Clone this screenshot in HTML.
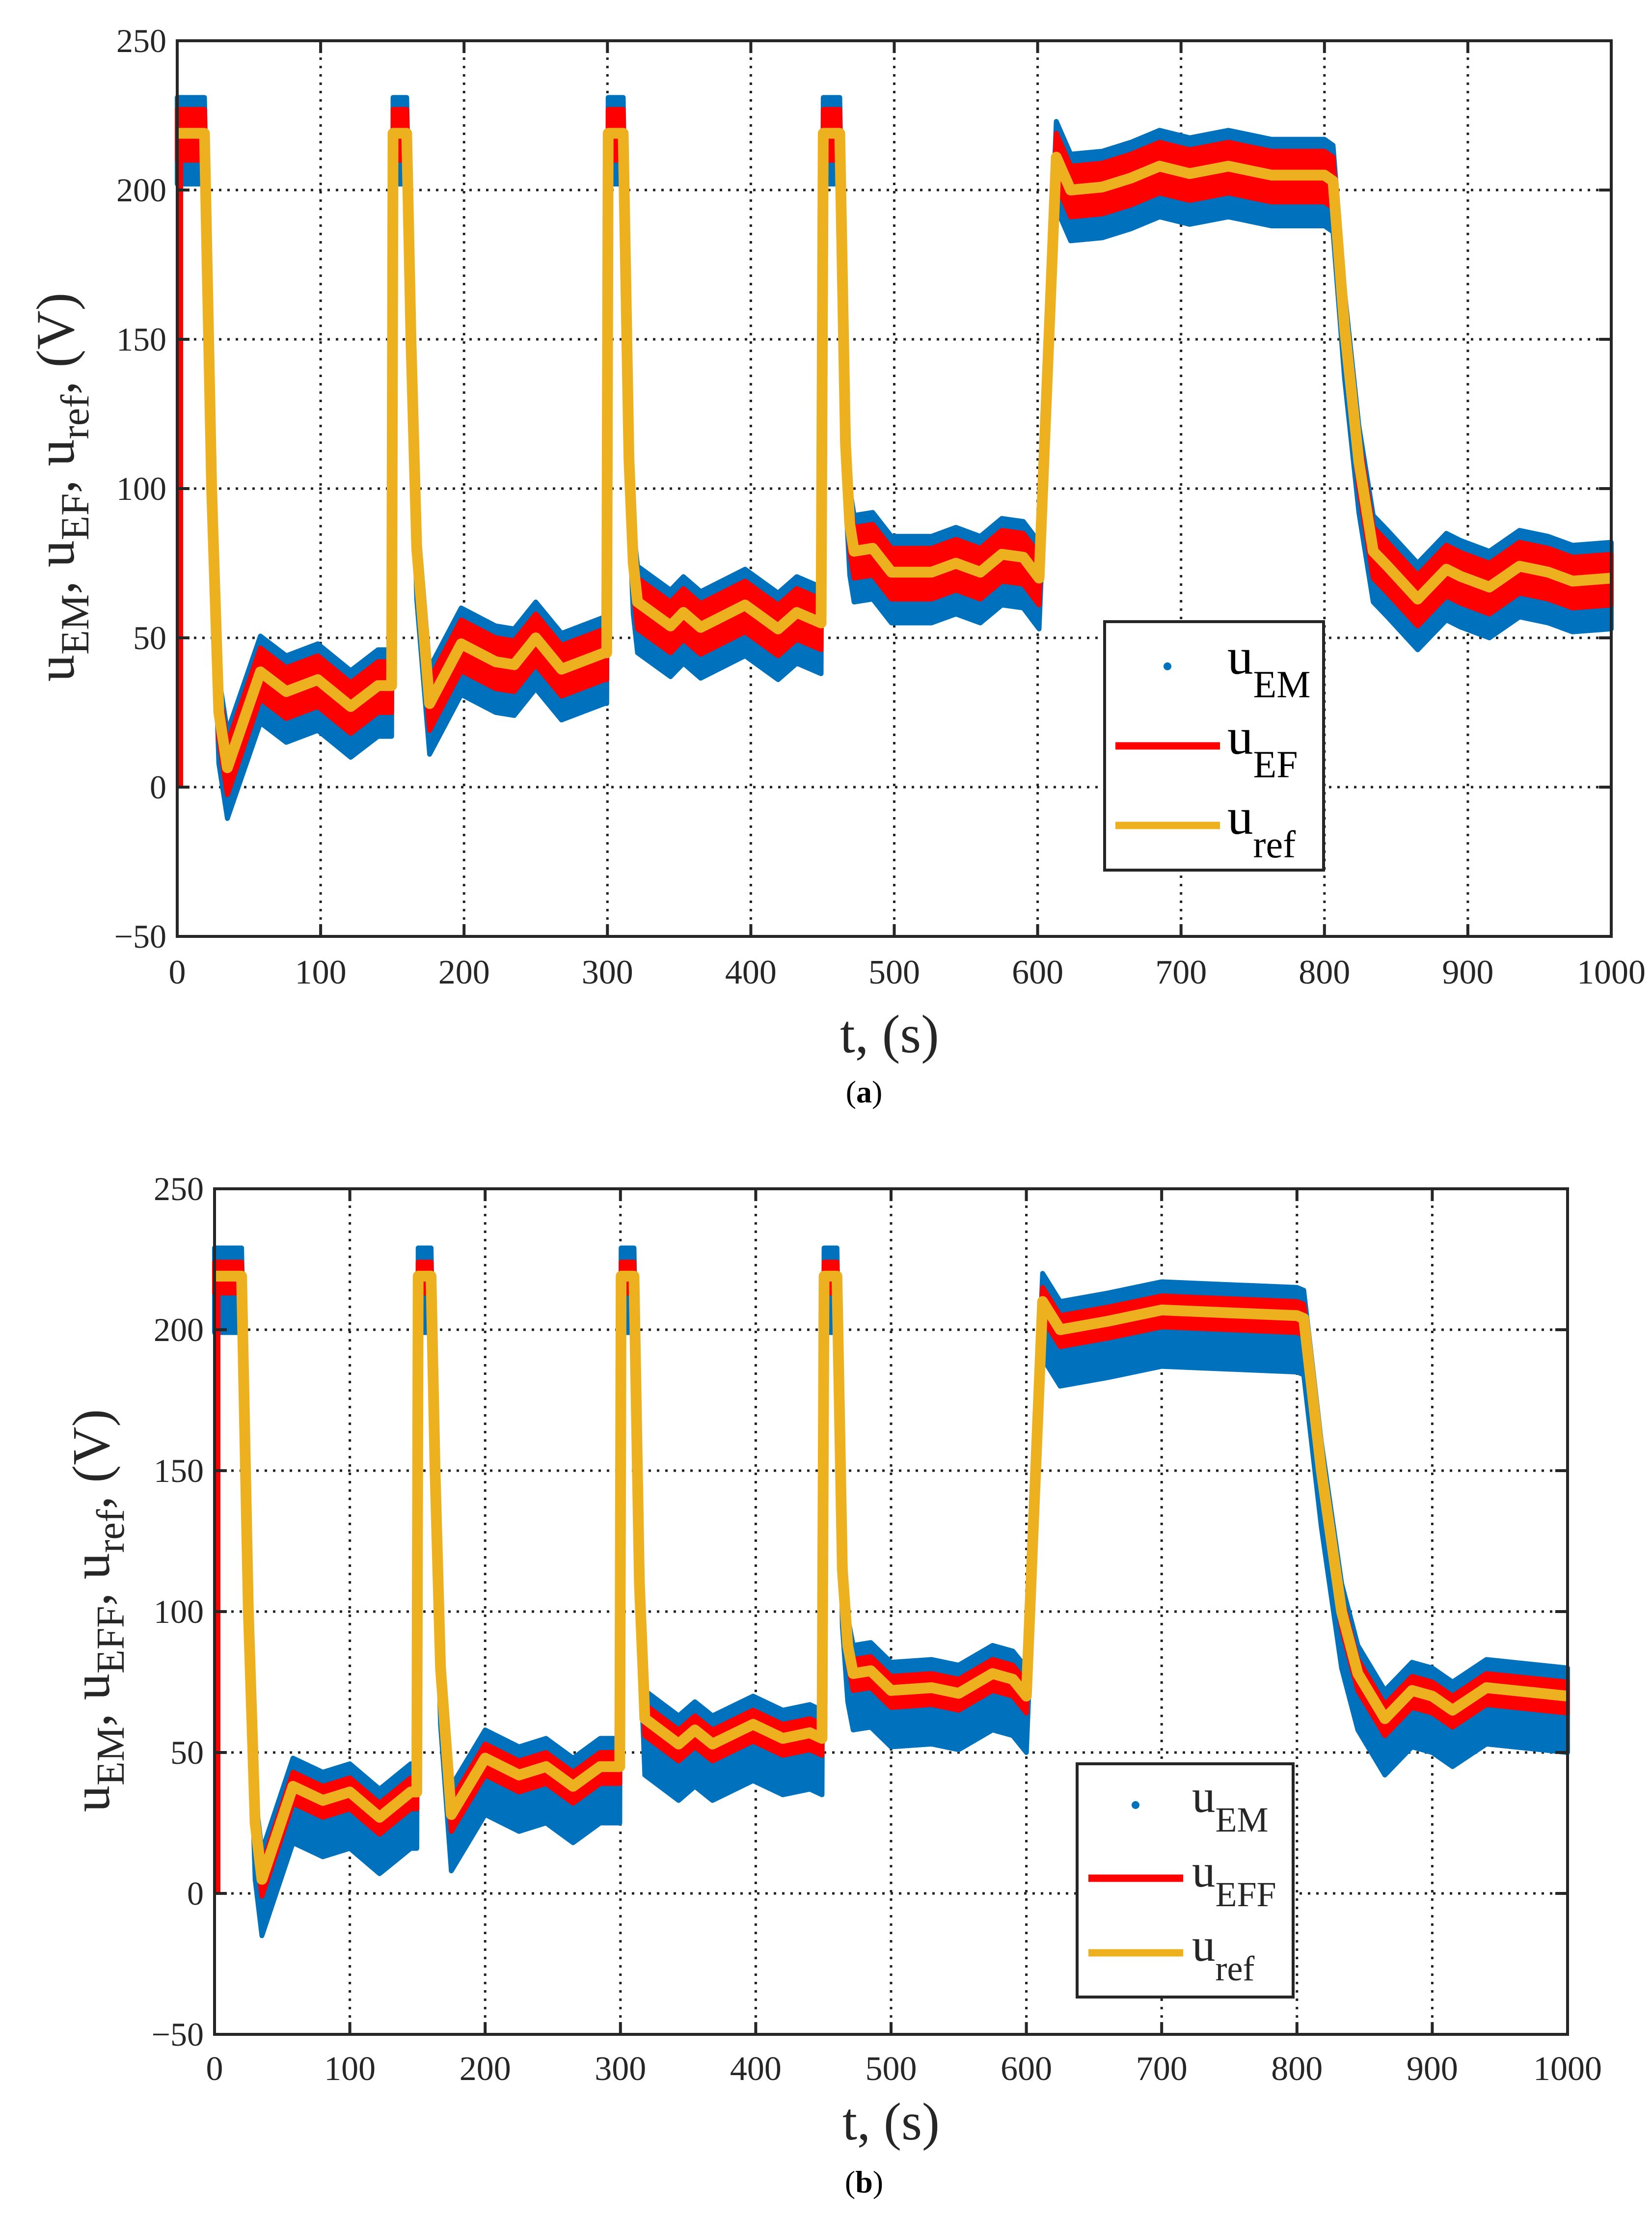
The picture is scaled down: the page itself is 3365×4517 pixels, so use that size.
<!DOCTYPE html>
<html><head><meta charset="utf-8"><style>
html,body{margin:0;padding:0;background:#fff;}
svg{display:block;font-family:"Liberation Serif",serif;}
text{font-family:"Liberation Serif",serif;}
</style></head><body>
<svg id="fig" width="3365" height="4517" viewBox="0 0 3365 4517" xmlns="http://www.w3.org/2000/svg" font-family="Liberation Serif, serif">
<rect width="3365" height="4517" fill="#fff"/>
</svg>
<script>
// ---- data: panel (a)
const tA   = [0,19,24,29,35,58,76,98,121,140,149.5,150.5,160,163,167,176,198,222,235,250,268,298,299.5,300.5,311,315,318,321,344,353,365,396,419,432,449,450.5,462,466,469,472,485,498,526,543,560,575,590,601,613,623,645,665,685,706,733,763,800,806,814,824,834,844,865,885,895,915,936,956,973,1000];
const refA = [219,219,100,25,6.5,38.6,32,36,27,34,34,219,219,150,80,28,48,42,41,50,39.5,45,45,219,219,110,75,62,54,58.5,53.5,61,53,58.5,55,219,219,115,88,79,80,72,72,75,72,78,77,70,211,200,201,204,208,205.5,208,205,205,203,154,109,79,74,63,73,70.6,67,74,72,69,70];
const efSpreadA = [8,9];
const emSpreadA = [12,17];
// ---- data: panel (b)
const tB   = [0,20,25,30,35,58,80,100,122,145,149.5,150.5,160,163,167,175,200,225,245,265,285,298,299.5,300.5,310,314,317,318,343,355,368,398,420,440,449,450.5,460,464,468,472,485,500,530,550,575,590,600,612,625,660,700,750,800,805,818,833,845,865,885,900,915,940,960,1000];
const refB = [219,219,100,25,5,38,33,36,27,36,36,219,219,150,80,28,48,42,45,38,45,45,45,219,219,110,75,62,53,58,53,60,55,57,55,219,219,115,88,78,79,72,73,71,78,76,70,210,200,203,207,206,205,204,150,100,78,62,72,70,65,73,72,70];
const efSpreadB = [5,6];
const emSpreadB = [10,20];
const yTicks = [-50,0,50,100,150,200,250];
const xTicks = [0,100,200,300,400,500,600,700,800,900,1000];

const NS="http://www.w3.org/2000/svg";
const svg=document.getElementById('fig');
function mk(tag,attrs,parent){const e=document.createElementNS(NS,tag);for(const k in attrs)e.setAttribute(k,attrs[k]);(parent||svg).appendChild(e);return e;}

function drawPanel(P){
  const g=mk('g',{});
  
  
  const X=t=>P.L+(t-0)/1000*(P.R-P.L);
  const Y=v=>P.B-(v+50)/300*(P.B-P.T);
  xTicks.forEach(t=>{ if(t>0&&t<1000){const l=mk('line',{x1:X(t),x2:X(t),y1:P.T,y2:P.B,stroke:'#222','stroke-width':5,'stroke-dasharray':'5 12'},g);
    
    }});
  yTicks.forEach(v=>{ if(v>-50&&v<250){const l=mk('line',{x1:P.L,x2:P.R,y1:Y(v),y2:Y(v),stroke:'#222','stroke-width':5,'stroke-dasharray':'5 12'},g);
    
    }});
  const T=P.t, V=P.v;
  function band(up,dn,color,name){
    let d='';
    for(let i=0;i<T.length;i++) d+=(i?'L':'M')+X(T[i]).toFixed(1)+' '+Y(V[i]+up).toFixed(1);
    for(let i=T.length-1;i>=0;i--) d+='L'+X(T[i]).toFixed(1)+' '+Y(V[i]-dn).toFixed(1);
    d+='Z';
    const p=mk('path',{d:d,fill:color,stroke:color,'stroke-width':10,'stroke-linejoin':'round'},g);
    
    
  }
  band(P.em[0],P.em[1],'#0072BD',P.id+'-u-em-scatter');
  band(P.ef[0],P.ef[1],'#FF0000',P.id+'-u-ef-band');
  const r0=mk('line',{x1:X(0)+5,x2:X(0)+5,y1:Y(0),y2:Y(V[0]),stroke:'#FF0000','stroke-width':14},g);
  
  
  let d='';
  for(let i=0;i<T.length;i++) d+=(i?'L':'M')+X(T[i]).toFixed(1)+' '+Y(V[i]).toFixed(1);
  const ref=mk('path',{d:d,fill:'none',stroke:'#EDB120','stroke-width':22,'stroke-linejoin':'round'},g);
  
  
  const fr=mk('rect',{x:P.L,y:P.T,width:P.R-P.L,height:P.B-P.T,fill:'none',stroke:'#262626','stroke-width':6},g);
  
  
  yTicks.forEach(v=>{
    mk('line',{x1:P.L,x2:P.L+25,y1:Y(v),y2:Y(v),stroke:'#262626','stroke-width':6},g);
    mk('line',{x1:P.R,x2:P.R-25,y1:Y(v),y2:Y(v),stroke:'#262626','stroke-width':6},g);
    const tx=mk('text',{x:P.L-22,y:Y(v)+23,'text-anchor':'end','font-size':68,fill:'#262626','font-family':'Liberation Serif, serif'},g);
    tx.textContent=v<0?'\u2212'+Math.abs(v):String(v);
    
    
  });
  xTicks.forEach(t=>{
    mk('line',{x1:X(t),x2:X(t),y1:P.B,y2:P.B-25,stroke:'#262626','stroke-width':6},g);
    mk('line',{x1:X(t),x2:X(t),y1:P.T,y2:P.T+25,stroke:'#262626','stroke-width':6},g);
    const tx=mk('text',{x:X(t),y:P.xlY,'text-anchor':'middle','font-size':70,fill:'#262626','font-family':'Liberation Serif, serif'},g);
    tx.textContent=String(t);
    
    
  });
}

drawPanel({id:'panel-a',L:361,R:3282,T:83,B:1907,t:tA,v:refA,ef:efSpreadA,em:emSpreadA,xlY:2003});
drawPanel({id:'panel-b',L:437,R:3193,T:2421,B:4143,t:tB,v:refB,ef:efSpreadB,em:emSpreadB,xlY:4236});
</script>
<div style="position:absolute;left:0;top:0;width:3365px;height:4517px;pointer-events:none;">
<svg width="3365" height="4517" style="position:absolute;left:0;top:0;" font-family="Liberation Serif, serif">
  <g>
    <rect x="2250" y="1266" width="446" height="506" fill="#fff" stroke="#262626" stroke-width="6"/>
    <circle cx="2378" cy="1357" r="8" fill="#0072BD"/>
    <text x="2500" y="1372" font-size="105" fill="#000">u<tspan font-size="78" dy="48">EM</tspan></text>
    <line x1="2272" x2="2485" y1="1519" y2="1519" stroke="#FF0000" stroke-width="15"/>
    <text x="2500" y="1535" font-size="105" fill="#000">u<tspan font-size="78" dy="48">EF</tspan></text>
    <line x1="2272" x2="2485" y1="1681" y2="1681" stroke="#EDB120" stroke-width="15"/>
    <text x="2500" y="1698" font-size="105" fill="#000">u<tspan font-size="78" dy="48">ref</tspan></text>
  </g>
  <text x="1812" y="2143" font-size="110" text-anchor="middle" fill="#262626">t, (s)</text>
  <text transform="translate(150,992) rotate(-90)" font-size="110" text-anchor="middle" fill="#262626">u<tspan font-size="82" dy="30">EM</tspan><tspan dy="-30">, u</tspan><tspan font-size="82" dy="30">EF</tspan><tspan dy="-30">, u</tspan><tspan font-size="82" dy="30">ref</tspan><tspan dy="-30">, (V)</tspan></text>
  <text x="1760" y="2245" font-size="64" text-anchor="middle" fill="#000">(<tspan font-weight="bold">a</tspan>)</text>

  <g>
    <rect x="2194" y="3592" width="440" height="475" fill="#fff" stroke="#262626" stroke-width="6"/>
    <circle cx="2313" cy="3676" r="8" fill="#0072BD"/>
    <text x="2428" y="3690" font-size="95" fill="#262626">u<tspan font-size="72" dy="40">EM</tspan></text>
    <line x1="2217" x2="2410" y1="3825" y2="3825" stroke="#FF0000" stroke-width="15"/>
    <text x="2428" y="3842" font-size="95" fill="#262626">u<tspan font-size="72" dy="40">EFF</tspan></text>
    <line x1="2217" x2="2410" y1="3977" y2="3977" stroke="#EDB120" stroke-width="15"/>
    <text x="2428" y="3993" font-size="95" fill="#262626">u<tspan font-size="72" dy="40">ref</tspan></text>
  </g>
  <text x="1815" y="4357" font-size="108" text-anchor="middle" fill="#262626">t, (s)</text>
  <text transform="translate(222,3280) rotate(-90)" font-size="108" text-anchor="middle" fill="#262626">u<tspan font-size="80" dy="30">EM</tspan><tspan dy="-30">, u</tspan><tspan font-size="80" dy="30">EFF</tspan><tspan dy="-30">, u</tspan><tspan font-size="80" dy="30">ref</tspan><tspan dy="-30">, (V)</tspan></text>
  <text x="1760" y="4465" font-size="64" text-anchor="middle" fill="#000">(<tspan font-weight="bold">b</tspan>)</text>
</svg>
</div>
</body></html>
